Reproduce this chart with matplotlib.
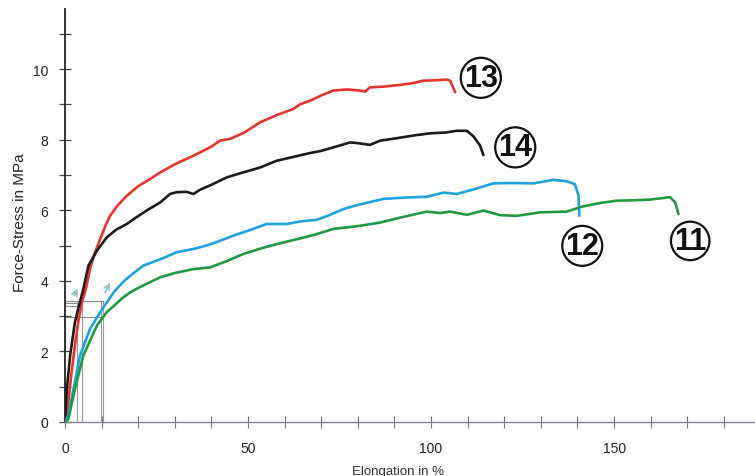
import matplotlib
matplotlib.use("Agg")
import matplotlib.pyplot as plt
from matplotlib.ticker import MultipleLocator

plt.rcParams['font.family'] = ['Liberation Sans', 'DejaVu Sans']

# sample 13 (red)
x13 = [0, 0.5, 1.8, 2.7, 3.6, 4.6, 5.7, 6.8, 8.2, 9.6, 11, 12.3, 14.5, 16.9, 20, 23.2, 26, 30, 35, 40,
       42.3, 45.1, 49, 53.3, 58, 62.4, 64.2, 66.9, 70, 73.3, 77, 80.6, 82, 83.3, 87, 91.5, 95, 97.9,
       101, 104.3, 105.2, 106.6]
y13 = [0, 0.18, 1.41, 2.16, 2.82, 3.39, 3.77, 4.33, 4.8, 5.18, 5.55, 5.84, 6.15, 6.41, 6.68, 6.88, 7.07, 7.3, 7.54, 7.8,
       7.97, 8.02, 8.2, 8.49, 8.7, 8.87, 9.0, 9.1, 9.25, 9.39, 9.42, 9.39, 9.36, 9.48, 9.5, 9.55, 9.6, 9.67,
       9.68, 9.7, 9.67, 9.34]

# sample 14 (black)
x14 = [0, 0.5, 1.4, 2.7, 3.6, 5, 6.4, 8.7, 11.4, 14, 16.9, 19.5, 22.3, 26, 28.7, 30.5, 33.2, 35.1, 36.9, 40,
       44.2, 48, 53.3, 57.8, 62, 66.9, 70, 73.3, 77.9, 80, 83.3, 86.1, 90, 96.1, 100, 104, 107, 109.8,
       111.6, 113.4, 114.3]
y14 = [0, 0.93, 1.88, 2.82, 3.2, 3.77, 4.43, 4.85, 5.23, 5.45, 5.61, 5.8, 5.99, 6.22, 6.46, 6.51, 6.52, 6.46, 6.58, 6.72,
       6.93, 7.05, 7.21, 7.40, 7.5, 7.62, 7.68, 7.78, 7.92, 7.9, 7.85, 7.97, 8.03, 8.13, 8.18, 8.2, 8.25, 8.25,
       8.09, 7.83, 7.56]

# sample 12 (blue)
x12 = [0, 0.9, 2.3, 4.1, 6.8, 9.6, 11.5, 13.5, 16, 18.5, 21.4, 27, 30.5, 35, 38.7, 42, 46, 50, 55.1, 60.6,
       64.2, 68.8, 72, 76, 80, 87, 93, 98.8, 103.4, 107, 112, 117, 122, 128, 133.4, 137, 139.3, 140.3, 140.5]
y12 = [0, 0.18, 0.93, 1.88, 2.63, 3.11, 3.4, 3.7, 3.98, 4.2, 4.43, 4.65, 4.81, 4.9, 5.0, 5.12, 5.28, 5.42, 5.61, 5.61,
       5.68, 5.73, 5.85, 6.03, 6.15, 6.32, 6.36, 6.38, 6.5, 6.46, 6.6, 6.76, 6.77, 6.76, 6.86, 6.82, 6.74, 6.41, 5.84]

# sample 11 (green)
x11 = [0.3, 0.9, 2.7, 5, 8.7, 11.4, 15.9, 17.8, 20, 26, 30, 35, 39.6, 44, 48.7, 53, 57.8, 64.2, 68,
       73.3, 80, 86.1, 92, 98.8, 102.5, 105.2, 109.8, 114.3, 118.9, 123.4, 129.8, 137, 141.6, 146, 150.7,
       155, 159.8, 165.3, 166.7, 167.6]
y11 = [0, 0.08, 0.93, 1.88, 2.73, 3.11, 3.53, 3.67, 3.8, 4.1, 4.22, 4.33, 4.38, 4.55, 4.76, 4.9, 5.04, 5.2, 5.3,
       5.47, 5.55, 5.65, 5.8, 5.96, 5.92, 5.96, 5.87, 5.99, 5.86, 5.84, 5.94, 5.96, 6.11, 6.2, 6.27,
       6.28, 6.3, 6.37, 6.22, 5.89]

curves = [
    ("13", x13, y13, "#e8352c", (113.6, 9.75)),
    ("14", x14, y14, "#1b1b1b", (123.0, 7.78)),
    ("12", x12, y12, "#1ea3df", (141.3, 4.99)),
    ("11", x11, y11, "#1f9a3e", (170.8, 5.13)),
]

# hand drawn helper lines near the origin
guide_x = [3.2, 4.6, 9.7, 10.5]
guide_top = 3.44
guide_h = [(3.44, 10.5), (2.97, 10.0), (3.36, 4.6), (3.28, 4.2)]

fig = plt.figure(figsize=(7.55, 4.77), dpi=100)
ax = fig.add_axes([65 / 755, 54 / 477, 690 / 755, 413 / 477])

for gx in guide_x:
    ax.plot([gx, gx], [0, guide_top], color="#9a9a9a", lw=0.8, zorder=1)
for gy, gx_end in guide_h:
    ax.plot([0, gx_end], [gy, gy], color="#8a8a8a", lw=0.8, zorder=1)

for s, e in [((2.2, 3.5), (3.7, 3.85)), ((10.6, 3.6), (12.6, 4.02))]:
    ax.annotate("", xy=e, xytext=s,
                arrowprops=dict(arrowstyle="->", color="#86c3cc", lw=1.2), zorder=2)

for name, xs, ys, col, pos in curves:
    ax.plot(xs, ys, color=col, lw=1.9, zorder=3, solid_capstyle="round", solid_joinstyle="round")
    ax.text(pos[0], pos[1], name, ha="center", va="center", fontsize=22, fontweight="bold",
            family=["Liberation Sans Narrow", "Liberation Sans"], color="#111111",
            bbox=dict(boxstyle="circle,pad=0.1", fc="none", ec="#111111", lw=1.6))

ax.set_xlim(0, 188.5)
ax.set_ylim(0, 11.7)

for side in ["top", "right"]:
    ax.spines[side].set_visible(False)
ax.spines["left"].set_color("#222222")
ax.spines["left"].set_linewidth(1.3)
ax.spines["bottom"].set_color("#7d8494")
ax.spines["bottom"].set_linewidth(1.0)

ax.xaxis.set_major_locator(MultipleLocator(50))
ax.xaxis.set_minor_locator(MultipleLocator(10))
ax.yaxis.set_minor_locator(MultipleLocator(1))
ax.set_yticks([0, 2, 4, 6, 8, 10])

ax.tick_params(axis="y", which="both", direction="inout", length=8, width=0.9, color="#444444",
               labelsize=10, pad=8, labelcolor="#222222")
ax.tick_params(axis="x", which="both", direction="inout", length=8, width=0.8, color="#777777",
               labelsize=10, pad=10, labelcolor="#222222")

ax.set_ylabel("Force-Stress in MPa", fontsize=11, color="#222222")
ax.yaxis.set_label_coords(-0.055, 0.484)
ax.set_xlabel("Elongation in %", fontsize=9.5, color="#333333")
ax.xaxis.set_label_coords(0.4825, -0.105)

fig.savefig("out.png", dpi=100)
